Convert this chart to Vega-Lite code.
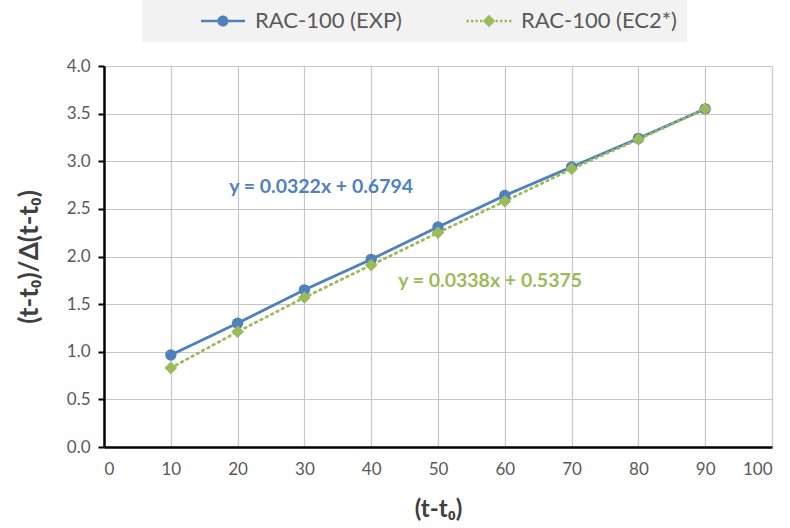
{
  "$schema": "https://vega.github.io/schema/vega-lite/v6.json",
  "width": 668,
  "height": 381,
  "autosize": {"type": "none"},
  "padding": {"left": 104, "top": 66, "right": 18, "bottom": 81},
  "background": "white",
  "config": {
    "view": {"stroke": null},
    "font": "Lato",
    "axis": {
      "labelFont": "Lato",
      "labelFontSize": 17,
      "labelColor": "#595959",
      "titleFont": "Lato",
      "titleFontSize": 24,
      "titleFontWeight": "bold",
      "titleColor": "#404040",
      "gridColor": "#c6c6c6",
      "gridWidth": 1.2,
      "domainColor": "black",
      "domainWidth": 2.5,
      "tickColor": "black",
      "tickWidth": 2
    }
  },
  "datasets": {
    "series": [
      {"t": 10, "v": 0.966, "series": "RAC-100 (EXP)"},
      {"t": 20, "v": 1.30, "series": "RAC-100 (EXP)"},
      {"t": 30, "v": 1.65, "series": "RAC-100 (EXP)"},
      {"t": 40, "v": 1.97, "series": "RAC-100 (EXP)"},
      {"t": 50, "v": 2.31, "series": "RAC-100 (EXP)"},
      {"t": 60, "v": 2.64, "series": "RAC-100 (EXP)"},
      {"t": 70, "v": 2.94, "series": "RAC-100 (EXP)"},
      {"t": 80, "v": 3.24, "series": "RAC-100 (EXP)"},
      {"t": 90, "v": 3.55, "series": "RAC-100 (EXP)"},
      {"t": 10, "v": 0.83, "series": "RAC-100 (EC2*)"},
      {"t": 20, "v": 1.21, "series": "RAC-100 (EC2*)"},
      {"t": 30, "v": 1.57, "series": "RAC-100 (EC2*)"},
      {"t": 40, "v": 1.91, "series": "RAC-100 (EC2*)"},
      {"t": 50, "v": 2.25, "series": "RAC-100 (EC2*)"},
      {"t": 60, "v": 2.58, "series": "RAC-100 (EC2*)"},
      {"t": 70, "v": 2.92, "series": "RAC-100 (EC2*)"},
      {"t": 80, "v": 3.23, "series": "RAC-100 (EC2*)"},
      {"t": 90, "v": 3.55, "series": "RAC-100 (EC2*)"}
    ],
    "labels": [
      {"t": 32.5, "v": 2.73, "label": "y = 0.0322x + 0.6794", "series": "RAC-100 (EXP)"},
      {"t": 57.8, "v": 1.74, "label": "y = 0.0338x + 0.5375", "series": "RAC-100 (EC2*)"}
    ]
  },
  "layer": [
    {
      "data": {"name": "series"},
      "mark": {"type": "line", "strokeWidth": 2.8, "strokeCap": "round"},
      "encoding": {
        "x": {
          "field": "t", "type": "quantitative",
          "scale": {"domain": [0, 100], "nice": false},
          "axis": {"values": [0,10,20,30,40,50,60,70,80,90,100], "title": "(t-t₀)", "ticks": false, "labelPadding": 14, "titlePadding": 20, "grid": true}
        },
        "y": {
          "field": "v", "type": "quantitative",
          "scale": {"domain": [0, 4], "nice": false},
          "axis": {"values": [0,0.5,1,1.5,2,2.5,3,3.5,4], "format": ".1f", "title": "(t-t₀)/Δ(t-t₀)", "tickSize": 6, "labelPadding": 8, "titlePadding": 24, "titleFontSize": 26, "grid": true}
        },
        "color": {
          "field": "series", "type": "nominal",
          "scale": {"domain": ["RAC-100 (EXP)", "RAC-100 (EC2*)"], "range": ["#4F81BD", "#9BBB59"]},
          "legend": {
            "orient": "none", "legendX": 38, "legendY": -66,
            "direction": "horizontal", "title": null,
            "fillColor": "#f2f2f2", "padding": 10,
            "symbolSize": 400, "symbolOffset": 60,
            "labelFont": "Lato", "labelFontSize": 22, "labelColor": "#595959", "labelOffset": 21,
            "columnPadding": 16,
            "encode": {
              "symbols": {
                "update": {
                  "shape": {"signal": "datum.value == 'RAC-100 (EXP)' ? 'M-2.2,-0.13L2.2,-0.13L2.2,0.13L-2.2,0.13ZM0.55,0A0.55,0.55,0,1,1,-0.55,0A0.55,0.55,0,1,1,0.55,0Z' : 'M-2.25,-0.12L-2.01,-0.12L-2.01,0.12L-2.25,0.12ZM-1.8,-0.12L-1.56,-0.12L-1.56,0.12L-1.8,0.12ZM-1.35,-0.12L-1.11,-0.12L-1.11,0.12L-1.35,0.12ZM-0.9,-0.12L-0.66,-0.12L-0.66,0.12L-0.9,0.12ZM0,-0.62L0.62,0L0,0.62L-0.62,0ZM0.66,-0.12L0.9,-0.12L0.9,0.12L0.66,0.12ZM1.11,-0.12L1.35,-0.12L1.35,0.12L1.11,0.12ZM1.56,-0.12L1.8,-0.12L1.8,0.12L1.56,0.12ZM2.01,-0.12L2.25,-0.12L2.25,0.12L2.01,0.12Z'"},
                  "fill": {"signal": "datum.value == 'RAC-100 (EXP)' ? '#4F81BD' : '#9BBB59'"},
                  "fillOpacity": {"value": 1},
                  "strokeWidth": {"value": 0},
                  "opacity": {"value": 1}
                }
              }
            }
          }
        },
        "strokeDash": {
          "field": "series", "type": "nominal",
          "scale": {"domain": ["RAC-100 (EXP)", "RAC-100 (EC2*)"], "range": [[1, 0], [1.5, 4.5]]},
          "legend": null
        }
      }
    },
    {
      "data": {"name": "series"},
      "transform": [{"filter": "datum.series == 'RAC-100 (EXP)'"}],
      "mark": {"type": "point", "filled": true, "opacity": 1, "shape": "circle", "size": 130, "color": "#4F81BD"},
      "encoding": {
        "x": {"field": "t", "type": "quantitative"},
        "y": {"field": "v", "type": "quantitative"}
      }
    },
    {
      "data": {"name": "series"},
      "transform": [{"filter": "datum.series == 'RAC-100 (EC2*)'"}],
      "mark": {"type": "point", "filled": true, "opacity": 1, "shape": "diamond", "size": 160, "color": "#9BBB59"},
      "encoding": {
        "x": {"field": "t", "type": "quantitative"},
        "y": {"field": "v", "type": "quantitative"}
      }
    },
    {
      "data": {"name": "labels"},
      "mark": {"type": "text", "fontWeight": "bold", "fontSize": 19.5, "font": "Lato", "align": "center", "baseline": "middle"},
      "encoding": {
        "x": {"field": "t", "type": "quantitative"},
        "y": {"field": "v", "type": "quantitative"},
        "text": {"field": "label"},
        "color": {"field": "series", "type": "nominal", "legend": null}
      }
    }
  ]
}
